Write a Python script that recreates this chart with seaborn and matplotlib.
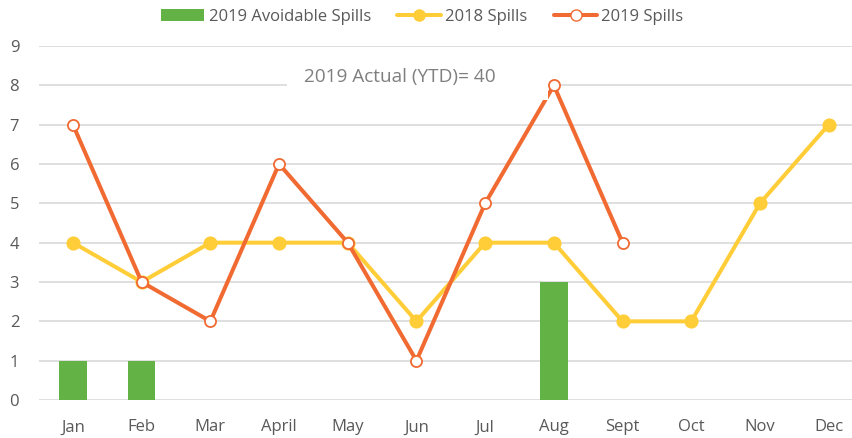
import matplotlib
matplotlib.use("Agg")
import matplotlib.pyplot as plt
import seaborn as sns
import pandas as pd
from matplotlib.lines import Line2D
from matplotlib.patches import Patch, Rectangle

months = ["Jan", "Feb", "Mar", "April", "May", "Jun", "Jul", "Aug", "Sept", "Oct", "Nov", "Dec"]
avoidable_2019 = [1, 1, 0, 0, 0, 0, 0, 3, 0, 0, 0, 0]
spills_2018 = [4, 3, 4, 4, 4, 2, 4, 4, 2, 2, 5, 7]
spills_2019 = [7, 3, 2, 6, 4, 1, 5, 8, 4]
yticks = list(range(0, 10))
annotation = "2019 Actual (YTD)= 40"

GREEN = "#62B246"
YELLOW = "#FFCD38"
ORANGE = "#F06A32"
GRAY = "#595959"
GRID = "#D9D9D9"

sns.set_theme(style="white")
plt.rcParams["font.family"] = ["Open Sans", "DejaVu Sans"]

fig = plt.figure(figsize=(8.53, 4.38), dpi=100)
ax = fig.add_axes([38.6 / 853, 38 / 438, (863 - 38.6) / 853, (400 - 46) / 438])

df_bar = pd.DataFrame({"month": months, "value": avoidable_2019})
df18 = pd.DataFrame({"month": months, "value": spills_2018})
df19 = pd.DataFrame({"month": months[:len(spills_2019)], "value": spills_2019})

sns.barplot(data=df_bar, x="month", y="value", order=months, color=GREEN,
            width=0.4, saturation=1, ax=ax, zorder=2, linewidth=0, edgecolor="none")
sns.pointplot(data=df18, x="month", y="value", order=months, color=YELLOW,
              errorbar=None, ax=ax, linewidth=2.9, markersize=8,
              markers="o", markeredgecolor=YELLOW, zorder=3)
sns.pointplot(data=df19, x="month", y="value", order=months, color=ORANGE,
              errorbar=None, ax=ax, linewidth=2.9, markersize=8,
              markers="o", markerfacecolor="white", markeredgecolor=ORANGE,
              markeredgewidth=1.3, zorder=4)

ax.set_xlim(-0.5, 11.5)
ax.set_ylim(0, 9)
ax.set_yticks(yticks)
ax.set_yticklabels([str(v) for v in yticks])
ax.grid(axis="y", color=GRID, linewidth=1.2, zorder=0)
ax.set_axisbelow(True)
for s in ax.spines.values():
    s.set_visible(False)
ax.tick_params(axis="both", length=0, labelsize=12, labelcolor=GRAY)
ax.tick_params(axis="y", pad=14)
ax.tick_params(axis="x", pad=14)
ax.set_xlabel("")
ax.set_ylabel("")

# white text box (Excel-style) behind the annotation
ax.add_patch(Rectangle((3.11, 7.63), 3.8, 1.0, facecolor="white", edgecolor="none",
                       zorder=4.5))
ax.text(3.37, 8.2, annotation, ha="left", va="center", fontsize=13.7, color="#7F7F7F",
        zorder=5)

handles = [
    Patch(facecolor=GREEN, edgecolor="none"),
    Line2D([0], [0], color=YELLOW, linewidth=2.9, marker="o", markersize=8,
           markeredgecolor=YELLOW),
    Line2D([0], [0], color=ORANGE, linewidth=2.9, marker="o", markersize=8,
           markerfacecolor="white", markeredgecolor=ORANGE),
]
labels = ["2019 Avoidable Spills", "2018 Spills", "2019 Spills"]
fig.legend(handles, labels, loc="center", bbox_to_anchor=(0.495, 0.962), ncol=3,
           frameon=False, fontsize=12, labelcolor=GRAY, handlelength=2.6,
           handletextpad=0.25, columnspacing=1.6, handleheight=0.7)

fig.savefig("out.png", dpi=100)
